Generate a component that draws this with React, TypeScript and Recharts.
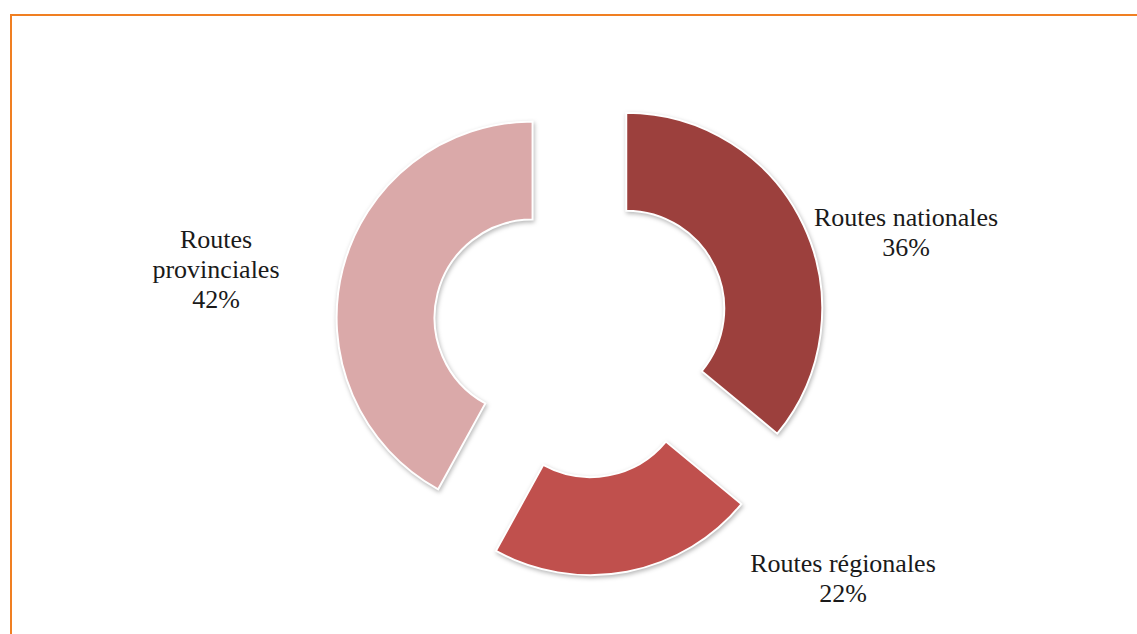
import { Cell, Pie, PieChart } from 'recharts';

const CATEGORIES = ['Routes nationales', 'Routes régionales', 'Routes provinciales'];
const SHARES = [36, 22, 42];
const LABEL_LINES = [['Routes nationales'], ['Routes régionales'], ['Routes', 'provinciales']];
const COLORS = ['#9C403D', '#C0504D', '#DAA9A9'];

const WIDTH = 1137;
const HEIGHT = 634;
const CENTER_X = 581;
const CENTER_Y = 330;
const INNER_R = 98;
const OUTER_R = 196;
const EXPLODE = 50;
const FONT = '"Liberation Serif", "Times New Roman", serif';

// label anchor (centre x, first baseline y), relative to the donut centre
const LABEL_OFFSETS = [
  { dx: 325, dy: -104 },
  { dx: 262, dy: 242 },
  { dx: -365, dy: -82 },
];

const data = CATEGORIES.map((name, i) => ({ name, value: SHARES[i] }));
const total = SHARES.reduce((a, b) => a + b, 0);

// mid angle of each slice, clockwise from 12 o'clock
const midAngles = SHARES.map((v, i) => {
  const before = SHARES.slice(0, i).reduce((a, b) => a + b, 0);
  return 90 - ((before + v / 2) / total) * 360;
});

function renderLabel(slice: number) {
  return (props: any) => {
    if (props.index !== slice) return null;
    const off = LABEL_OFFSETS[slice];
    const x = CENTER_X + off.dx;
    const y = CENTER_Y + off.dy;
    const lines = [...LABEL_LINES[slice], `${SHARES[slice]}%`];
    return (
      <text
        key={`lbl-${slice}`}
        x={x}
        y={y}
        textAnchor="middle"
        fontFamily={FONT}
        fontSize={26}
        fill="#1a1a1a"
      >
        {lines.map((line, j) => (
          <tspan key={j} x={x} dy={j === 0 ? 0 : 30}>
            {line}
          </tspan>
        ))}
      </text>
    );
  };
}

export default function App() {
  return (
    <div
      style={{
        position: 'relative',
        width: WIDTH,
        height: HEIGHT,
        overflow: 'hidden',
        background: '#fff',
      }}
    >
      <style>{`
        body { margin: 0; }
        .recharts-pie-sector path { filter: drop-shadow(1px 2px 2px rgba(0,0,0,0.28)); }
      `}</style>
      <div
        style={{
          position: 'absolute',
          left: 10,
          top: 14,
          width: WIDTH + 20,
          height: HEIGHT + 20,
          border: '2px solid #F07F22',
          boxSizing: 'border-box',
        }}
      />
      <div style={{ position: 'absolute', left: 0, top: 0 }}>
        <PieChart
          width={WIDTH}
          height={HEIGHT}
          margin={{ top: 0, right: 0, bottom: 0, left: 0 }}
        >
          {SHARES.map((_, k) => {
            const rad = (midAngles[k] * Math.PI) / 180;
            return (
              <Pie
                key={k}
                data={data}
                dataKey="value"
                nameKey="name"
                cx={CENTER_X + EXPLODE * Math.cos(rad)}
                cy={CENTER_Y - EXPLODE * Math.sin(rad)}
                innerRadius={INNER_R}
                outerRadius={OUTER_R}
                startAngle={90}
                endAngle={-270}
                stroke="#fff"
                strokeWidth={2}
                label={renderLabel(k)}
                labelLine={false}
                isAnimationActive={false}
              >
                {data.map((d, i) => (
                  <Cell
                    key={d.name}
                    fill={i === k ? COLORS[i] : 'transparent'}
                    stroke={i === k ? '#fff' : 'transparent'}
                  />
                ))}
              </Pie>
            );
          })}
        </PieChart>
      </div>
    </div>
  );
}
